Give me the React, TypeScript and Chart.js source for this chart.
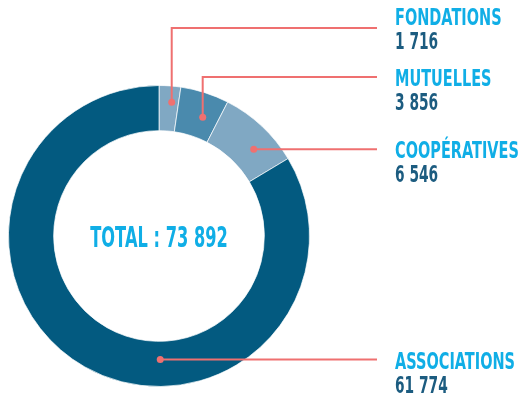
import React, { useEffect, useRef } from "react";
import { Chart, registerables } from "chart.js";

Chart.register(...registerables);

const categories = ["FONDATIONS", "MUTUELLES", "COOPÉRATIVES", "ASSOCIATIONS"];
const values = [1716, 3856, 6546, 61774];
const valueLabels = ["1 716", "3 856", "6 546", "61 774"];
const totalLabel = "TOTAL : 73 892";
const colors = ["#80a8c3", "#4a8aad", "#80a8c3", "#035a80"];

// label layout (positions only)
const dotFractions = [0.65, 0.63, 0.64, 0.4];
const dotRadial = [0.64, 0.47, 0.51, 0.4];
const nameBaselines = [25, 86, 158, 369];
const lineYs = [28, 77, 149, 360];

const CYAN = "#10aee6";
const DARK = "#1c5c80";
const CORAL = "#ef7070";
const FONT = '"DejaVu Sans", sans-serif';

function drawCondensed(
  ctx: CanvasRenderingContext2D,
  text: string,
  x: number,
  y: number,
  size: number,
  color: string,
  sx: number,
  align: "left" | "center"
) {
  ctx.save();
  ctx.font = `bold ${size}px ${FONT}`;
  ctx.fillStyle = color;
  ctx.textBaseline = "alphabetic";
  const w = ctx.measureText(text).width * sx;
  const startX = align === "center" ? x - w / 2 : x;
  ctx.translate(startX, y);
  ctx.scale(sx, 1);
  ctx.textAlign = "left";
  ctx.fillText(text, 0, 0);
  ctx.restore();
}

const labelPlugin = {
  id: "labelPlugin",
  afterDraw(chart: any) {
    const ctx: CanvasRenderingContext2D = chart.ctx;
    const arcs = chart.getDatasetMeta(0).data;
    const lineEndX = 377;
    const textX = 395;
    arcs.forEach((arc: any, i: number) => {
      const p = arc.getProps(["x", "y", "startAngle", "endAngle", "innerRadius", "outerRadius"], true);
      const a = p.startAngle + dotFractions[i] * (p.endAngle - p.startAngle);
      const r = p.innerRadius + dotRadial[i] * (p.outerRadius - p.innerRadius);
      const dx = p.x + Math.cos(a) * r;
      const dy = p.y + Math.sin(a) * r;
      const ly = lineYs[i];
      ctx.save();
      ctx.strokeStyle = CORAL;
      ctx.lineWidth = 2;
      ctx.beginPath();
      if (Math.abs(dy - ly) > 3) {
        ctx.moveTo(dx, dy);
        ctx.lineTo(dx, ly);
        ctx.lineTo(lineEndX, ly);
      } else {
        ctx.moveTo(dx, dy);
        ctx.lineTo(lineEndX, dy);
      }
      ctx.stroke();
      ctx.fillStyle = CORAL;
      ctx.beginPath();
      ctx.arc(dx, dy, 3.5, 0, Math.PI * 2);
      ctx.fill();
      ctx.restore();

      drawCondensed(ctx, categories[i], textX, nameBaselines[i], 23, CYAN, 0.63, "left");
      drawCondensed(ctx, valueLabels[i], textX, nameBaselines[i] + 24, 23, DARK, 0.6, "left");
    });
    const c = arcs[0];
    drawCondensed(ctx, totalLabel, c.x, c.y + 11, 29, CYAN, 0.56, "center");
  },
};

export default function App() {
  const ref = useRef<HTMLCanvasElement>(null);
  useEffect(() => {
    document.body.style.margin = "0";
    const chart = new Chart(ref.current!, {
      type: "doughnut",
      data: {
        labels: categories,
        datasets: [
          {
            data: values,
            backgroundColor: colors,
            borderColor: "rgba(255,255,255,0.7)",
            borderWidth: 1,
          },
        ],
      },
      options: {
        responsive: false,
        animation: false,
        cutout: "70%",
        layout: { padding: { left: 8, right: 210, top: 85, bottom: 13 } },
        plugins: { legend: { display: false }, tooltip: { enabled: false } },
      },
      plugins: [labelPlugin],
    });
    return () => chart.destroy();
  }, []);
  return (
    <div style={{ width: 520, height: 400, background: "#fff" }}>
      <canvas ref={ref} width={520} height={400} />
    </div>
  );
}
